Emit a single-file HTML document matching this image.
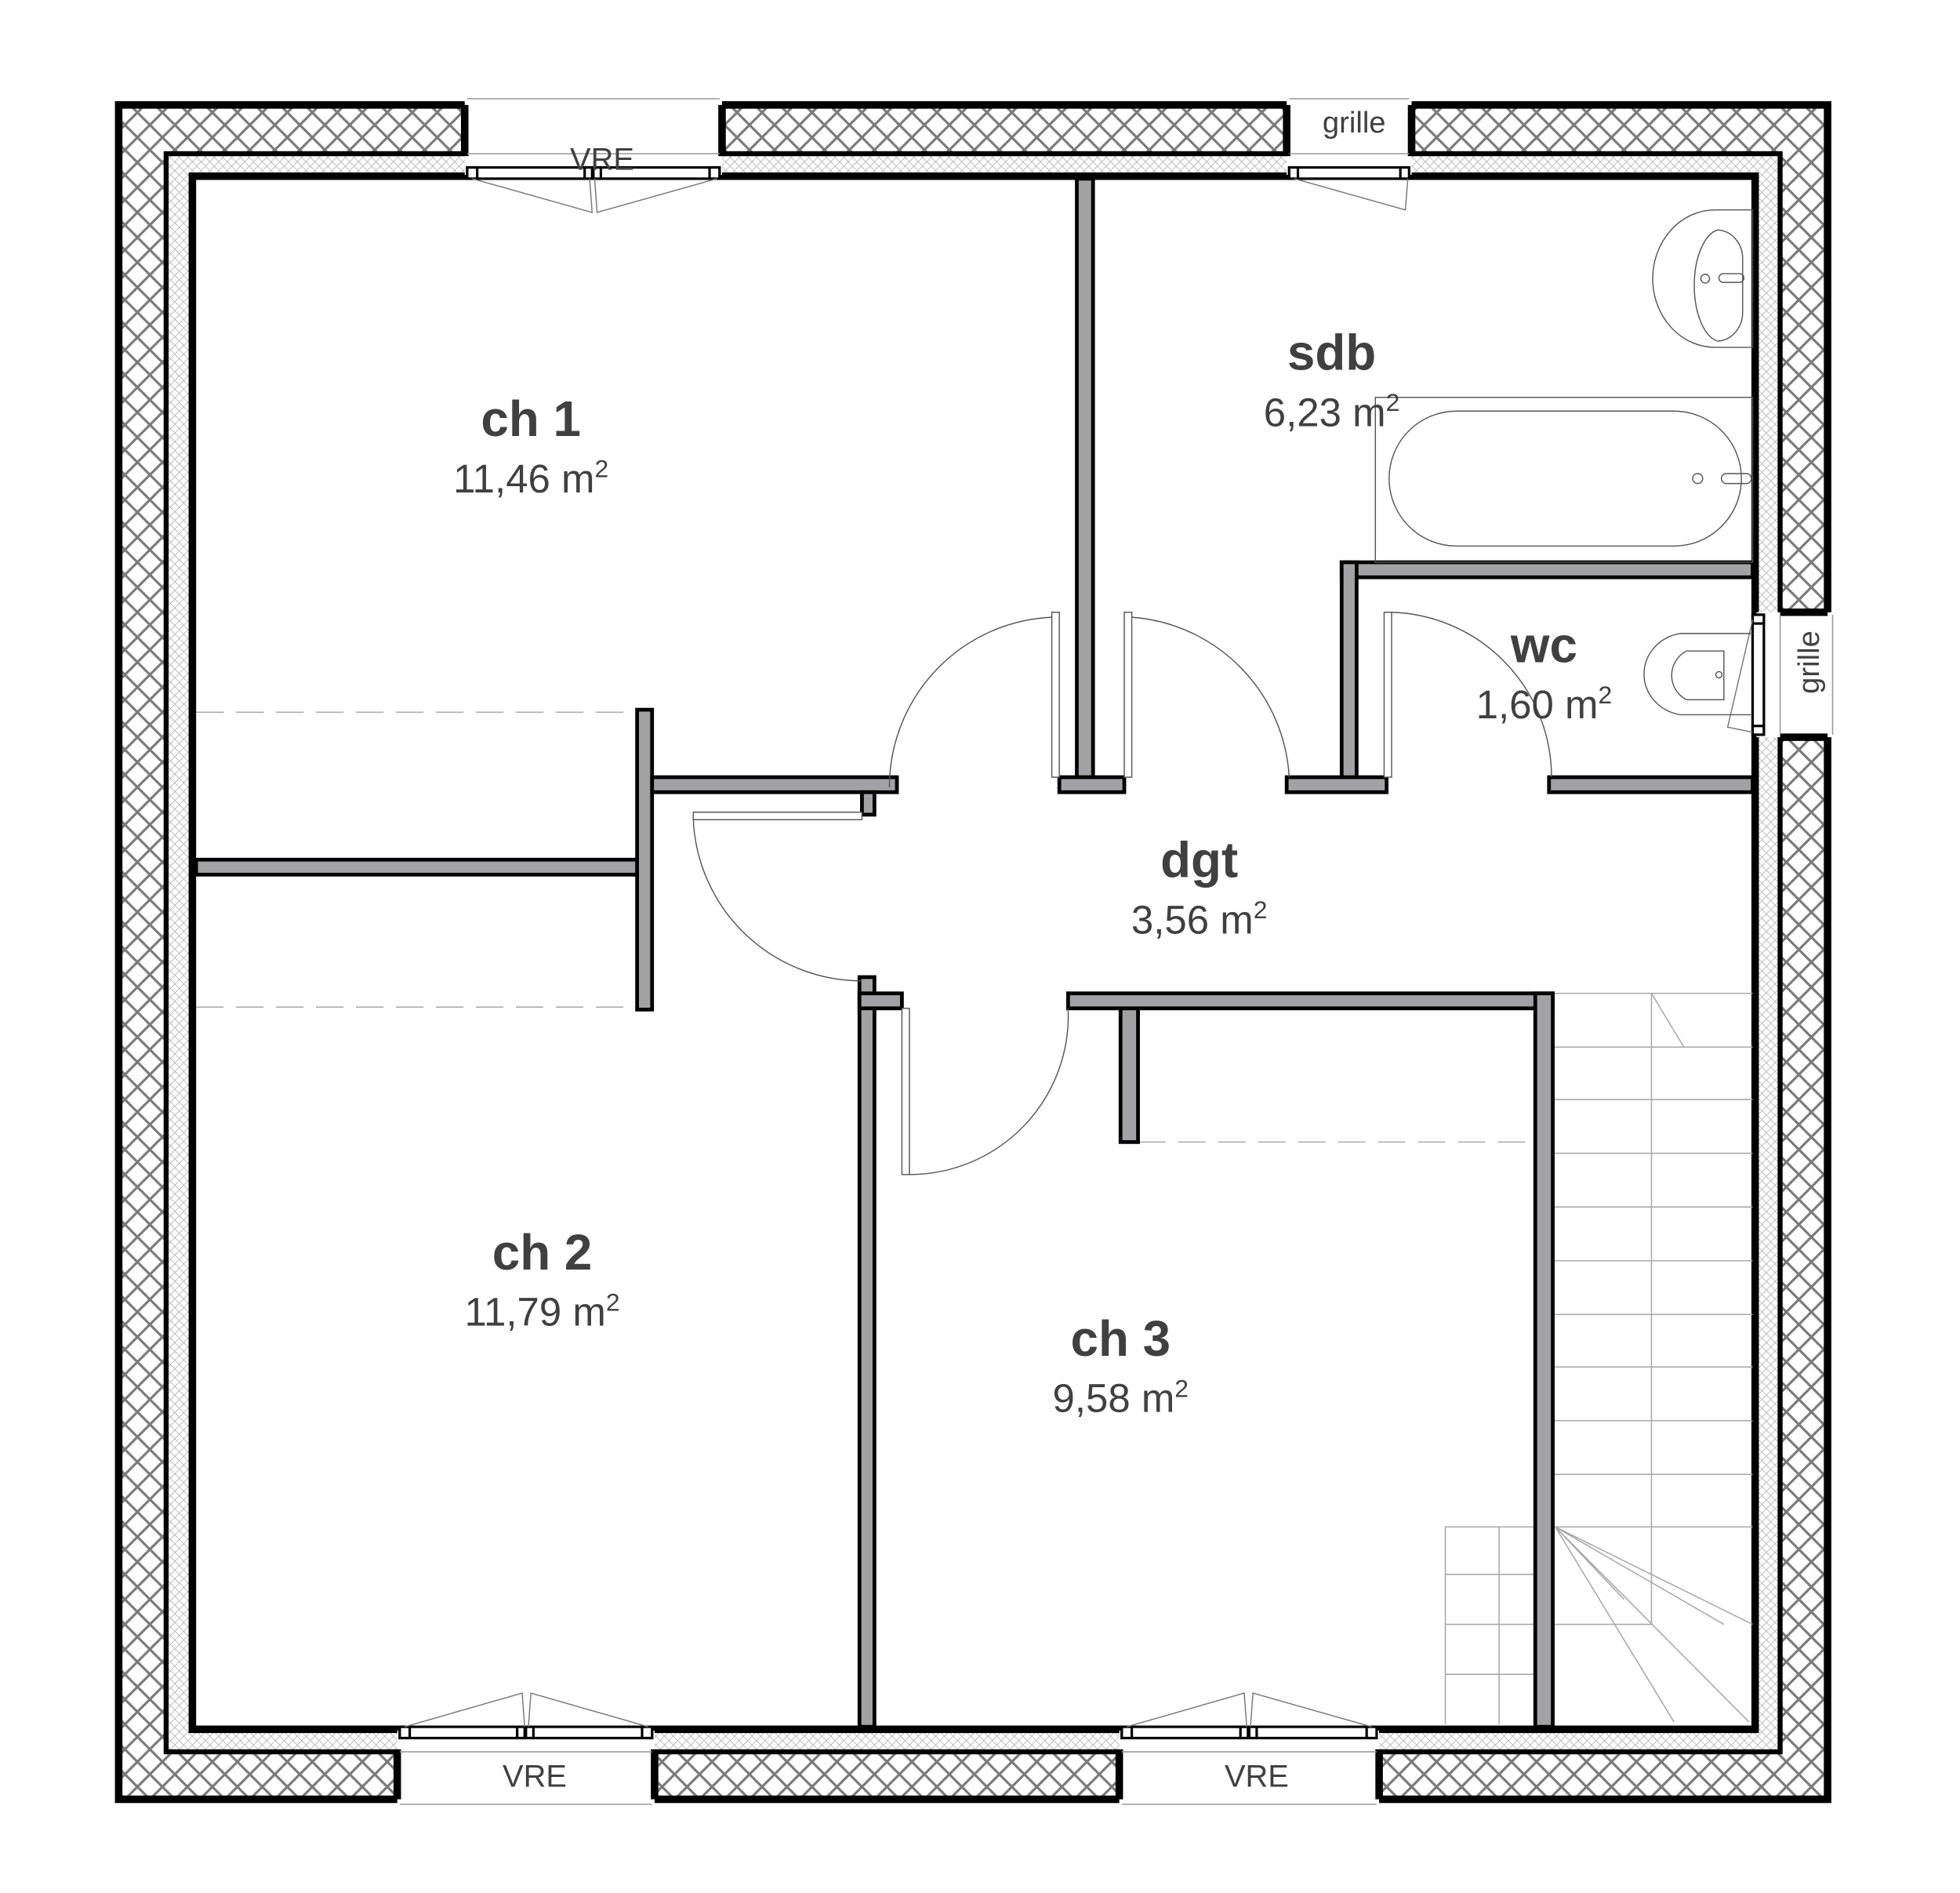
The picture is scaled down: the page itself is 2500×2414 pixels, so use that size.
<!DOCTYPE html>
<html><head><meta charset="utf-8"><style>
html,body{margin:0;padding:0;background:#fff}
svg{display:block}
text{font-family:"Liberation Sans",Arial,sans-serif;fill:#404040}
</style></head><body>
<svg width="2500" height="2414" viewBox="0 0 1569 1515" preserveAspectRatio="none" xmlns="http://www.w3.org/2000/svg">
<defs>
<pattern id="hx" width="20" height="20" patternUnits="userSpaceOnUse">
<path d="M0,0 L20,20 M20,0 L0,20" stroke="#7a7a7a" stroke-width="2"/>
</pattern>
<pattern id="ins" width="7" height="7" patternUnits="userSpaceOnUse">
<path d="M0,3.5 L3.5,0 L7,3.5 L3.5,7 Z" fill="none" stroke="#bbb" stroke-width="0.6"/>
</pattern>
</defs>
<rect width="1569" height="1515" fill="#fff"/>
<path fill-rule="evenodd" fill="url(#hx)" d="M95,84 H1463 V1440 H95 Z M133,123 V1402 H1425 V123 Z"/>
<path fill-rule="evenodd" fill="url(#ins)" d="M133,123 H1425 V1402 H133 Z M155,141 V1384 H1405 V141 Z"/>
<rect x="95" y="84" width="1368" height="1356" fill="none" stroke="#000" stroke-width="6"/>
<rect x="133" y="123" width="1292" height="1279" fill="none" stroke="#000" stroke-width="4"/>
<rect x="154" y="141" width="1251" height="1243" fill="none" stroke="#000" stroke-width="6"/>

<rect x="372" y="78" width="206" height="62" fill="#fff"/>
<path d="M372,84 V125 M578,84 V125" stroke="#000" stroke-width="6"/>
<path d="M374,79 H576 M374,123 H576" stroke="#999" stroke-width="1"/>
<g fill="#fff" stroke="#000" stroke-width="2">
<rect x="374" y="134" width="202" height="9"/>
<rect x="374" y="134" width="8" height="9"/><rect x="568" y="134" width="8" height="9"/>
<rect x="468" y="134" width="6" height="9"/><rect x="475" y="134" width="6" height="9"/>
</g>
<path d="M378,143 L474,170 L472,143 M476,143 L478,170 L574,143" fill="none" stroke="#777" stroke-width="0.9"/>
<text x="482" y="136" font-size="25" text-anchor="middle" fill="#111">VRE</text>

<rect x="1030" y="78" width="100" height="62" fill="#fff"/>
<path d="M1030,84 V125 M1130,84 V125" stroke="#000" stroke-width="6"/>
<path d="M1032,79 H1128 M1032,123 H1128" stroke="#999" stroke-width="1"/>
<g fill="#fff" stroke="#000" stroke-width="2">
<rect x="1032" y="134" width="96" height="9"/>
<rect x="1032" y="134" width="7" height="9"/><rect x="1121" y="134" width="7" height="9"/>
</g>
<path d="M1036,143 L1125,168 L1127,143" fill="none" stroke="#777" stroke-width="0.9"/>
<text x="1084" y="106" font-size="24" text-anchor="middle" fill="#111">grille</text>

<rect x="1406" y="490" width="62" height="100" fill="#fff"/>
<path d="M1425,490 H1463 M1425,590 H1463" stroke="#000" stroke-width="6"/>
<path d="M1467,492 V588 M1425,492 V588" stroke="#999" stroke-width="1"/>
<g fill="#fff" stroke="#000" stroke-width="2">
<rect x="1403" y="492" width="9" height="96"/>
<rect x="1403" y="492" width="9" height="7"/><rect x="1403" y="581" width="9" height="7"/>
</g>
<path d="M1403,496 L1383,582 L1403,586" fill="none" stroke="#777" stroke-width="0.9"/>
<text x="0" y="0" font-size="24" text-anchor="middle" fill="#111" transform="translate(1456,530) rotate(-90)">grille</text>

<rect x="318" y="1385" width="206" height="62" fill="#fff"/>
<path d="M318,1400 V1440 M524,1400 V1440" stroke="#000" stroke-width="6"/>
<path d="M320,1402 H522 M320,1444 H522" stroke="#999" stroke-width="1"/>
<g fill="#fff" stroke="#000" stroke-width="2">
<rect x="320" y="1382" width="202" height="9"/>
<rect x="320" y="1382" width="8" height="9"/><rect x="514" y="1382" width="8" height="9"/>
<rect x="414" y="1382" width="6" height="9"/><rect x="421" y="1382" width="6" height="9"/>
</g>
<path d="M324,1382 L418,1355 L420,1382 M423,1382 L425,1355 L519,1382" fill="none" stroke="#777" stroke-width="0.9"/>
<text x="428" y="1430" font-size="25" text-anchor="middle" fill="#111">VRE</text>

<rect x="896" y="1385" width="208" height="62" fill="#fff"/>
<path d="M896,1400 V1440 M1104,1400 V1440" stroke="#000" stroke-width="6"/>
<path d="M898,1402 H1102 M898,1444 H1102" stroke="#999" stroke-width="1"/>
<g fill="#fff" stroke="#000" stroke-width="2">
<rect x="898" y="1382" width="204" height="9"/>
<rect x="898" y="1382" width="8" height="9"/><rect x="1094" y="1382" width="8" height="9"/>
<rect x="993" y="1382" width="6" height="9"/><rect x="1000" y="1382" width="6" height="9"/>
</g>
<path d="M902,1382 L996,1355 L998,1382 M1001,1382 L1003,1355 L1098,1382" fill="none" stroke="#777" stroke-width="0.9"/>
<text x="1006" y="1430" font-size="25" text-anchor="middle" fill="#111">VRE</text>

<g stroke="#aaa" stroke-width="1" stroke-dasharray="22,10">
<path d="M157,570 H510 M157,806 H510 M911,914 H1229"/>
</g>

<g stroke="#aaa" stroke-width="1" fill="none">
<path d="M1243,795 H1403 M1243,838 H1403 M1243,880 H1403 M1243,923 H1403 M1243,966 H1403 M1243,1009 H1403 M1243,1052 H1403 M1243,1094 H1403 M1243,1137 H1403 M1243,1180 H1403 M1243,1222 H1403"/>
<path d="M1322,795 V1300 H1157 V1222 H1243 M1157,1222 V1380 M1157,1260 H1243 M1157,1300 H1243 M1157,1340 H1243 M1200,1222 V1380"/>
<path d="M1322,795 L1348,838"/>
<path d="M1245,1222 L1403,1300 M1245,1222 L1380,1300 M1245,1222 L1300,1280 M1245,1222 L1340,1378 M1245,1222 L1400,1378"/>
</g>

<g fill="#a2a2a6" stroke="#000" stroke-width="3">
<rect x="862" y="143" width="13" height="487"/>
<rect x="848" y="622" width="52" height="12"/>
<rect x="157" y="688" width="355" height="12"/>
<rect x="510" y="568" width="12" height="240"/>
<rect x="522" y="622" width="196" height="12"/>
<rect x="690" y="634" width="10" height="18"/>
<rect x="1074" y="450" width="329" height="12"/>
<rect x="1074" y="450" width="12" height="180"/>
<rect x="1030" y="622" width="80" height="12"/>
<rect x="1240" y="622" width="163" height="12"/>
<rect x="688" y="782" width="12" height="600"/>
<rect x="688" y="795" width="34" height="12"/>
<rect x="855" y="795" width="388" height="12"/>
<rect x="1229" y="795" width="14" height="587"/>
<rect x="897" y="807" width="14" height="107"/>
</g>

<g fill="#fff" stroke="#555" stroke-width="0.9">
<rect x="842" y="490" width="6" height="132"/>
<path d="M712,630 A136,136 0 0 1 842,494" fill="none"/>
<rect x="900" y="490" width="6" height="132"/>
<path d="M906,494 A136,136 0 0 1 1032,622" fill="none"/>
<rect x="1108" y="490" width="6" height="132"/>
<path d="M1114,490 A132,132 0 0 1 1242,622" fill="none"/>
<rect x="555" y="650" width="135" height="6"/>
<path d="M555,656 A135,135 0 0 0 690,785" fill="none"/>
<rect x="722" y="807" width="6" height="133"/>
<path d="M728,940 A127,127 0 0 0 855,807" fill="none"/>
</g>

<g fill="none" stroke="#555" stroke-width="0.9">
<path d="M1403,168 H1373 A50,55 0 0 0 1373,278 H1403 Z"/>
<path d="M1375,184 A21,23 0 0 1 1395,207 V250 A21,23 0 0 1 1375,273 A22,45 0 0 1 1375,184 Z"/>
<circle cx="1365" cy="223" r="3.5"/>
<rect x="1376" y="219" width="20" height="7" rx="3.5"/>
<rect x="1101" y="318" width="302" height="132"/>
<rect x="1112" y="329" width="282" height="108" rx="54"/>
<circle cx="1359" cy="383" r="4"/>
<rect x="1378" y="379" width="24" height="8" rx="4"/>
<path d="M1403,507 H1345 A35,33 0 0 0 1345,572 H1403"/>
<path d="M1380,521 H1350 A22,22 0 0 0 1350,560 H1380 Z"/>
<circle cx="1376" cy="540" r="2.5"/>
</g>

<g text-anchor="middle">
<text x="425" y="349" font-size="40" font-weight="bold">ch 1</text>
<text x="425" y="394" font-size="32">11,46 m<tspan font-size="20" dy="-12">2</tspan></text>
<text x="1066" y="296" font-size="40" font-weight="bold">sdb</text>
<text x="1066" y="341" font-size="32">6,23 m<tspan font-size="20" dy="-12">2</tspan></text>
<text x="1236" y="530" font-size="40" font-weight="bold">wc</text>
<text x="1236" y="575" font-size="32">1,60 m<tspan font-size="20" dy="-12">2</tspan></text>
<text x="960" y="702" font-size="40" font-weight="bold">dgt</text>
<text x="960" y="747" font-size="32">3,56 m<tspan font-size="20" dy="-12">2</tspan></text>
<text x="434" y="1016" font-size="40" font-weight="bold">ch 2</text>
<text x="434" y="1061" font-size="32">11,79 m<tspan font-size="20" dy="-12">2</tspan></text>
<text x="897" y="1085" font-size="40" font-weight="bold">ch 3</text>
<text x="897" y="1130" font-size="32">9,58 m<tspan font-size="20" dy="-12">2</tspan></text>
</g>
</svg>
</body></html>
